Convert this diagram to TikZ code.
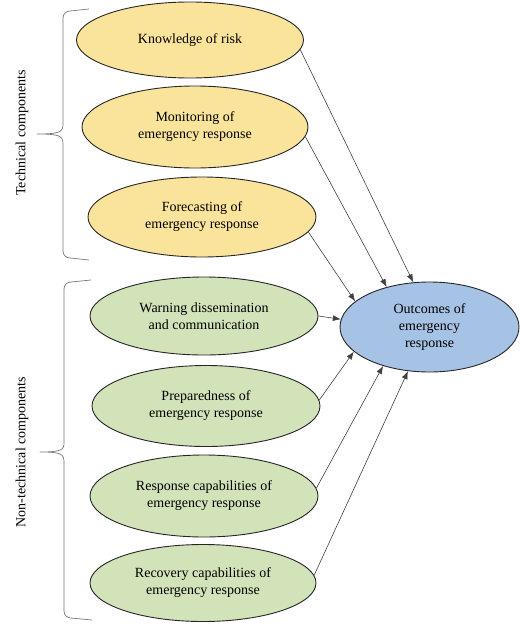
\documentclass[tikz,border=0pt]{standalone}
\usepackage{fontspec}
\setmainfont{Liberation Serif}
\usepackage{tikz}
\usetikzlibrary{arrows.meta}
\usetikzlibrary{shapes.geometric}
\definecolor{techfill}{RGB}{250,228,155}
\definecolor{nontechfill}{RGB}{210,226,185}
\definecolor{outfill}{RGB}{166,194,229}
\definecolor{bracegray}{RGB}{120,120,120}

\begin{document}
\begin{tikzpicture}[
    x=1pt, y=-1pt,
    >={Latex[length=8pt,width=6pt]},
    comp/.style={ellipse, draw=black!85, line width=0.9pt, inner sep=0pt,
        align=center, font=\fontsize{14}{17}\selectfont},
    tech/.style={comp, fill=techfill},
    nontech/.style={comp, fill=nontechfill},
    outcome/.style={comp, fill=outfill},
    link/.style={->, draw=black!75, line width=0.6pt},
    brace line/.style={draw=bracegray, line width=0.7pt},
    side label/.style={rotate=90, font=\fontsize{14}{17}\selectfont}
    ]
    \useasboundingbox (0,0) rectangle (520,626);

    % technical components
    \node[tech, minimum width=227pt, minimum height=76pt] (knowledge) at (190,40) {Knowledge of risk};
    \node[tech, minimum width=226pt, minimum height=82pt] (monitoring) at (195,127) {Monitoring of\\emergency response};
    \node[tech, minimum width=228pt, minimum height=80pt] (forecasting) at (202,217) {Forecasting of\\emergency response};
    % non-technical components
    \node[nontech, minimum width=228pt, minimum height=78pt] (warning) at (204,316) {Warning dissemination\\and communication};
    \node[nontech, minimum width=228pt, minimum height=81pt] (preparedness) at (206,406) {Preparedness of\\emergency response};
    \node[nontech, minimum width=228pt, minimum height=82pt] (response) at (204,496) {Response capabilities of\\emergency response};
    \node[nontech, minimum width=226pt, minimum height=77pt] (recovery) at (203,583) {Recovery capabilities of\\emergency response};
    % outcome
    \node[outcome, minimum width=179pt, minimum height=90pt] (outcomes) at (429.5,327) {Outcomes of\\emergency\\response};

    % links
    \draw[link] (knowledge.-5) -- (outcomes.110);
    \draw[link] (monitoring.-5) -- (outcomes.137);
    \draw[link] (forecasting.-8) -- (outcomes.161);
    \draw[link] (warning.0) -- (outcomes.175);
    \draw[link] (preparedness.3) -- (outcomes.198);
    \draw[link] (response.4) -- (outcomes.220);
    \draw[link] (recovery.4) -- (outcomes.244);

    % braces
    \draw[brace line] (89,9) -- (70,11) to[out=180,in=90] (63,18) -- (63,124)
        .. controls (63,132) and (60,134) .. (37,134)
        .. controls (60,134) and (63,136) .. (63,144)
        -- (63,251) to[out=-90,in=180] (70,258) -- (89,260);
    \draw[brace line] (91,280) -- (71,282) to[out=180,in=90] (64,289) -- (64,443)
        .. controls (64,450) and (61,452) .. (40,452)
        .. controls (61,452) and (64,454) .. (64,462)
        -- (64,611) to[out=-90,in=180] (71,618) -- (92,620);
    \node[side label] (techlabel) at (22,133) {Technical components};
    \node[side label] (nontechlabel) at (22,452) {Non-technical components};
\end{tikzpicture}
\end{document}
